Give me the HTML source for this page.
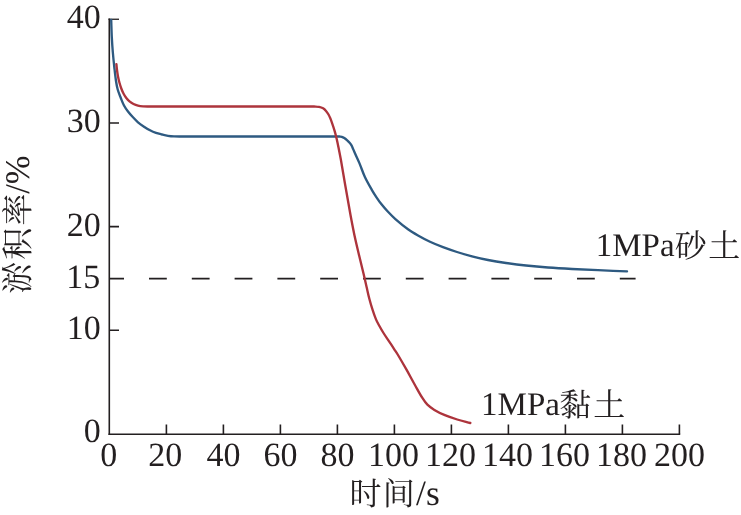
<!DOCTYPE html>
<html lang="zh">
<head>
<meta charset="utf-8">
<title>淤积率-时间曲线</title>
<style>
html,body{margin:0;padding:0;background:#fff;}
body{width:741px;height:515px;overflow:hidden;}
svg{display:block;}
text{font-family:"Liberation Serif","Noto Serif CJK SC",serif;font-size:34px;fill:#231f20;text-rendering:geometricPrecision;}
</style>
</head>
<body>
<svg width="741" height="515" viewBox="0 0 741 515">
<rect width="741" height="515" fill="#fff"/>
<g stroke="#231f20" stroke-width="1.6" fill="none" stroke-linecap="butt">
<path d="M109.3 18.55 V435.1"/>
<path d="M108.5 434.3 H680.2"/>
<path d="M109.3 123 H119 M109.3 226.6 H119 M109.3 330.3 H119"/>
<path d="M108.5 19.25 H119" stroke-width="1.3"/>
<path d="M166.4 434.3 V424.5 M223.4 434.3 V424.5 M280.4 434.3 V424.5 M337.4 434.3 V424.5 M394.4 434.3 V424.5 M451.4 434.3 V424.5 M508.4 434.3 V424.5 M565.4 434.3 V424.5 M622.4 434.3 V424.5 M679.4 434.3 V424.5"/>
<path d="M109.3 278.6 H635.6" stroke-dasharray="17.8 25" stroke-dashoffset="3.1"/>
</g>
<path fill="none" stroke="#2e5a81" stroke-width="2.35" stroke-linecap="round" stroke-linejoin="round" d="M111.2 20 C111.4 25.67 111.52 31.34 111.8 37 C112.05 42 112.38 47.01 112.8 52 C113.25 57.34 113.81 62.67 114.4 68 C114.88 72.34 115.34 76.69 116 81 C116.44 83.85 116.92 86.73 117.7 89.5 C118.52 92.39 119.7 95.19 120.8 98 C121.8 100.53 122.73 103.11 124 105.5 C125.13 107.61 126.55 109.59 128 111.5 C129.55 113.53 131.27 115.43 133 117.3 C134.6 119.03 136.21 120.77 138 122.3 C139.88 123.91 141.94 125.33 144 126.7 C145.94 127.99 147.93 129.23 150 130.3 C151.93 131.3 153.95 132.18 156 132.9 C157.95 133.58 159.99 134.01 162 134.5 C163.99 134.98 165.98 135.48 168 135.8 C169.98 136.11 171.99 136.3 174 136.4 C176.66 136.53 179.33 136.47 182 136.5 L339.5 136.5 C340.27 136.6 341.08 136.56 341.8 136.8 C342.68 137.09 343.52 137.58 344.3 138.1 C345.32 138.78 346.28 139.58 347.2 140.4 C348.05 141.15 348.86 141.94 349.6 142.8 C350.3 143.61 350.98 144.47 351.5 145.4 C352.21 146.67 352.71 148.06 353.3 149.4 C353.98 150.93 354.62 152.47 355.3 154 C356.69 157.14 358.18 160.23 359.5 163.4 C361.38 167.9 362.84 172.59 364.9 177 C366.94 181.39 369.4 185.59 371.8 189.8 C373.26 192.36 374.87 194.84 376.5 197.3 C377.97 199.51 379.45 201.72 381.1 203.8 C383.29 206.56 385.6 209.23 388 211.8 C390.36 214.33 392.8 216.82 395.4 219.1 C399.46 222.65 403.63 226.13 408 229.3 C411.17 231.6 414.59 233.56 418 235.5 C421.93 237.73 425.91 239.89 430 241.8 C434.25 243.79 438.61 245.54 443 247.2 C447.61 248.94 452.29 250.52 457 252 C461.96 253.56 466.97 255 472 256.3 C477.3 257.67 482.63 258.94 488 260 C493.97 261.18 499.98 262.13 506 263 C512.65 263.96 519.32 264.78 526 265.5 C533.32 266.28 540.66 266.94 548 267.5 C555.99 268.11 564 268.57 572 269 C580.66 269.47 589.33 269.82 598 270.2 C607.67 270.62 617.33 271 627 271.4"/>
<path fill="none" stroke="#ad343c" stroke-width="2.35" stroke-linecap="round" stroke-linejoin="round" d="M116.4 64.2 C116.6 66.13 116.75 68.07 117 70 C117.28 72.17 117.59 74.35 118 76.5 C118.39 78.52 118.86 80.52 119.4 82.5 C119.96 84.52 120.57 86.54 121.3 88.5 C121.97 90.3 122.71 92.1 123.6 93.8 C124.37 95.27 125.28 96.69 126.3 98 C127.25 99.22 128.31 100.41 129.5 101.4 C130.71 102.41 132.08 103.3 133.5 104 C134.92 104.7 136.46 105.23 138 105.6 C139.63 105.99 141.32 106.17 143 106.3 C145.32 106.47 147.67 106.43 150 106.5 L314 106.5 C315.67 106.63 317.37 106.58 319 106.9 C320.41 107.18 321.87 107.6 323.1 108.3 C324.2 108.93 325.15 109.93 326 110.9 C326.95 111.99 327.77 113.24 328.5 114.5 C329.2 115.71 329.76 117.01 330.3 118.3 C330.89 119.71 331.4 121.15 331.9 122.6 C332.84 125.32 333.79 128.04 334.6 130.8 C335.39 133.47 336.07 136.18 336.7 138.9 C337.43 142.05 338.06 145.23 338.7 148.4 C339.43 152.03 340.15 155.66 340.8 159.3 C342.32 167.86 343.71 176.44 345.2 185 C346.94 195 348.66 205.01 350.5 215 C351.76 221.81 353.06 228.62 354.5 235.4 C355.96 242.22 357.6 249.01 359.2 255.8 C360.7 262.14 362.3 268.46 363.8 274.8 C364.76 278.86 365.66 282.94 366.6 287 C367.53 291 368.36 295.03 369.4 299 C370.36 302.66 371.43 306.3 372.6 309.9 C373.63 313.1 374.73 316.29 376 319.4 C376.76 321.26 377.73 323.04 378.7 324.8 C380.23 327.57 381.82 330.32 383.5 333 C385.22 335.75 387.11 338.39 388.9 341.1 C390.71 343.83 392.5 346.56 394.3 349.3 C395.44 351.03 396.64 352.72 397.7 354.5 C400.7 359.52 403.62 364.6 406.5 369.7 C409.46 374.94 412.26 380.26 415.2 385.5 C417.49 389.59 419.69 393.75 422.2 397.7 C423.76 400.15 425.37 402.67 427.4 404.7 C429.43 406.73 431.92 408.41 434.4 409.9 C437.75 411.91 441.29 413.68 444.9 415.2 C448.89 416.88 453.05 418.23 457.2 419.5 C461.52 420.83 465.93 421.83 470.3 423"/>
<text transform="translate(100.8 28)" text-anchor="end" style="font-size:34px;">40</text>
<text transform="translate(100.8 132)" text-anchor="end" style="font-size:34px;">30</text>
<text transform="translate(100.8 236)" text-anchor="end" style="font-size:34px;">20</text>
<text transform="translate(100.2 288)" text-anchor="end" style="font-size:34px;">15</text>
<text transform="translate(100.8 339)" text-anchor="end" style="font-size:34px;">10</text>
<text transform="translate(100.8 442)" text-anchor="end" style="font-size:34px;">0</text>
<text transform="translate(108.7 466)" text-anchor="middle" style="font-size:34px;">0</text>
<text transform="translate(165.2 466)" text-anchor="middle" style="font-size:34px;">20</text>
<text transform="translate(223.4 466)" text-anchor="middle" style="font-size:34px;">40</text>
<text transform="translate(280.4 466)" text-anchor="middle" style="font-size:34px;">60</text>
<text transform="translate(337.4 466)" text-anchor="middle" style="font-size:34px;">80</text>
<text transform="translate(393.6 466)" text-anchor="middle" style="font-size:34px;">100</text>
<text transform="translate(450.6 466)" text-anchor="middle" style="font-size:34px;">120</text>
<text transform="translate(507.6 466)" text-anchor="middle" style="font-size:34px;">140</text>
<text transform="translate(564.6 466)" text-anchor="middle" style="font-size:34px;">160</text>
<text transform="translate(621.6 466)" text-anchor="middle" style="font-size:34px;">180</text>
<text transform="translate(679.4 466)" text-anchor="middle" style="font-size:34px;">200</text>
<text transform="translate(349.5 505.4)" style="font-size:35.5px;"><tspan dx="0" dy="0" style="font-size:32px;letter-spacing:1.3px">时间</tspan>/s</text>
<text transform="translate(29.4 293.7) rotate(-90)" style="font-size:34.6px;"><tspan dx="0" dy="0" style="font-size:32px;letter-spacing:2.05px">淤积率</tspan><tspan dx="-2.2">/%</tspan></text>
<text transform="translate(595.7 255.8)" style="font-size:33px;">1MPa<tspan dx="0.3" dy="1" style="font-size:32px;letter-spacing:1.3px">砂土</tspan></text>
<text transform="translate(481.1 415.2)" style="font-size:33px;">1MPa<tspan dx="-0.7" dy="1" style="font-size:32px;letter-spacing:2px">黏土</tspan></text>
</svg>
</body>
</html>
